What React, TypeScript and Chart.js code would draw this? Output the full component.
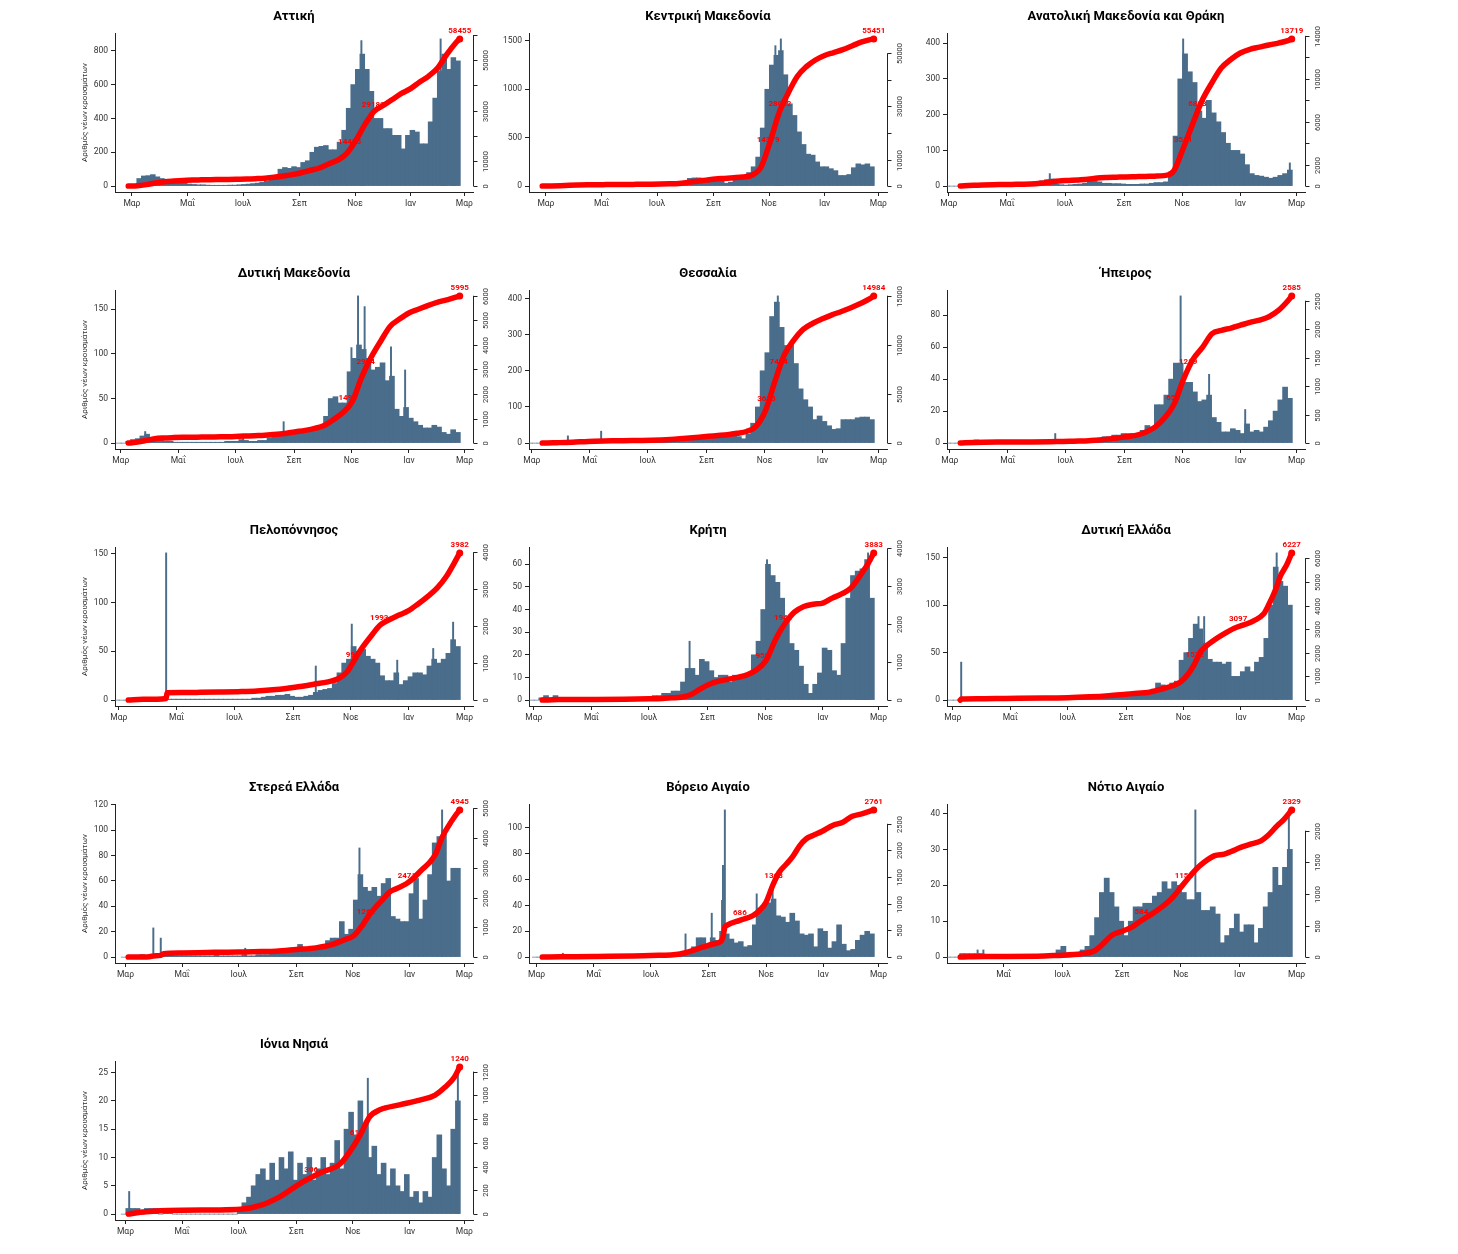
import React, { useEffect, useRef } from "react";
import { Chart, registerables } from "chart.js";

Chart.register(...registerables);

// ---------- shared axis data ----------
const MONTH_TICK_DAYS = [4, 65, 126, 188, 249, 310, 369]; // days after 26 Feb 2020
const MONTH_TICK_LABELS = ["Μαρ", "Μαΐ", "Ιουλ", "Σεπ", "Νοε", "Ιαν", "Μαρ"];
const LAST_DAY = 364;
const BIN_DAYS = 5;
const Y_TITLE = "Αριθμός νέων κρουσμάτων";

const REGION_NAMES = [
  "Αττική", "Κεντρική Μακεδονία", "Ανατολική Μακεδονία και Θράκη",
  "Δυτική Μακεδονία", "Θεσσαλία", "Ήπειρος",
  "Πελοπόννησος", "Κρήτη", "Δυτική Ελλάδα",
  "Στερεά Ελλάδα", "Βόρειο Αιγαίο", "Νότιο Αιγαίο",
  "Ιόνια Νησιά",
];
const START_DAYS = [0, 0, 16, 12, 15, 15, 14, 13, 12, 7, 10, 20, 7];
const BAR_MAX = [870, 1520, 412, 165, 407, 92, 151, 65, 155, 116, 114, 41, 26];

const LEFT_TICKS = [
  [0, 200, 400, 600, 800],
  [0, 500, 1000, 1500],
  [0, 100, 200, 300, 400],
  [0, 50, 100, 150],
  [0, 100, 200, 300, 400],
  [0, 20, 40, 60, 80],
  [0, 50, 100, 150],
  [0, 10, 20, 30, 40, 50, 60],
  [0, 50, 100, 150],
  [0, 20, 40, 60, 80, 100, 120],
  [0, 20, 40, 60, 80, 100],
  [0, 10, 20, 30, 40],
  [0, 5, 10, 15, 20, 25],
];
const RIGHT_TICKS = [
  [0, 10000, 20000, 30000, 40000, 50000, 60000],
  [0, 10000, 20000, 30000, 40000, 50000],
  [0, 2000, 4000, 6000, 8000, 10000, 12000, 14000],
  [0, 1000, 2000, 3000, 4000, 5000, 6000],
  [0, 5000, 10000, 15000],
  [0, 500, 1000, 1500, 2000, 2500],
  [0, 1000, 2000, 3000, 4000],
  [0, 1000, 2000, 3000, 4000],
  [0, 1000, 2000, 3000, 4000, 5000, 6000],
  [0, 1000, 2000, 3000, 4000, 5000],
  [0, 500, 1000, 1500, 2000, 2500],
  [0, 500, 1000, 1500, 2000],
  [0, 200, 400, 600, 800, 1000, 1200],
];
const RIGHT_TICK_LABELS = [
  ["0", "10000", "", "30000", "", "50000", ""],
  ["0", "10000", "", "30000", "", "50000"],
  ["0", "2000", "", "6000", "", "10000", "", "14000"],
  ["0", "1000", "2000", "3000", "4000", "5000", "6000"],
  ["0", "5000", "10000", "15000"],
  ["0", "500", "1000", "1500", "2000", "2500"],
  ["0", "1000", "2000", "3000", "4000"],
  ["0", "1000", "2000", "3000", "4000"],
  ["0", "1000", "2000", "3000", "4000", "5000", "6000"],
  ["0", "1000", "2000", "3000", "4000", "5000"],
  ["0", "500", "1000", "1500", "2000", "2500"],
  ["0", "500", "1000", "1500", "2000"],
  ["0", "200", "400", "600", "800", "1000", "1200"],
];

// ---------- daily new cases, 5-day bins from 26 Feb 2020 (typical daily level) ----------
const ATTICA_BINS = [2,3,45,60,62,68,55,45,35,28, 22,18,22,12,10,8,8,6,5,5, 5,5,6,6,8,10,12,15,18,22, 30,35,45,100,110,105,115,110,140,150, 200,230,235,240,215,215,260,330,460,600, 690,780,690,560,400,400,340,340,300,300, 220,300,330,320,250,250,380,520,680,780, 690,760,740];
const KM_BINS = [2,4,8,10,10,10,8,8,6,5, 4,3,3,2,2,2,2,2,2,2, 2,2,2,2,3,4,5,8,10,15, 25,30,80,85,85,55,50,60,70,60, 30,40,70,95,90,140,200,300,600,1000, 1250,1350,1400,1150,850,730,560,430,330,320, 250,200,200,180,160,110,110,120,190,230, 220,230,200];
const AMTH_BINS = [0,0,0,1,2,2,3,3,3,2, 2,2,2,1,1,1,1,2,3,12, 15,18,20,5,4,3,4,5,6,8, 15,22,12,8,8,7,7,6,5,5, 5,6,6,8,10,10,12,40,140,300, 370,320,290,210,190,240,205,180,150,120, 100,100,90,60,35,30,28,25,22,25, 30,35,45];
const DM_BINS = [0,0,2,4,5,8,10,6,5,3, 2,2,1,1,1,1,1,1,1,1, 1,1,1,2,2,2,4,3,2,2, 3,3,6,8,8,12,10,12,12,13, 14,15,16,18,30,50,52,45,45,80, 95,110,105,95,82,85,90,70,75,38, 30,40,28,24,20,17,17,20,18,12, 10,15,12];
const THESS_BINS = [0,0,0,1,2,2,3,2,3,3, 2,2,2,2,2,3,2,2,2,2, 2,2,2,3,3,3,4,4,5,6, 8,12,14,15,15,16,16,14,14,15, 18,20,26,25,18,12,25,55,100,200, 250,350,390,320,270,270,220,150,120,100, 65,75,60,48,38,40,65,65,65,70, 72,72,65];
const IPEIROS_BINS = [0,0,0,1,1,1,2,0,0,0, 0,0,0,0,0,0,0,0,0,0, 0,0,0,1,0,0,1,1,1,1, 2,2,3,4,4,5,5,6,6,6, 6,8,11,10,24,24,30,40,50,50, 38,38,32,26,27,30,16,13,7,7, 9,8,6,12,7,8,7,10,14,20, 27,35,28];
const PELOP_BINS = [0,0,0,1,1,1,1,1,1,1, 1,1,1,1,1,1,1,1,1,1, 1,1,1,1,1,1,1,1,1,2, 2,3,4,4,5,5,6,4,3,3, 4,5,8,10,11,12,17,28,38,42, 55,50,52,45,42,38,25,20,20,28, 16,20,24,28,28,26,35,42,38,42, 48,62,55];
const KRITI_BINS = [0,0,1,2,0,2,1,0,0,0, 0,0,0,0,0,0,0,0,0,0, 0,0,0,0,0,1,2,2,3,3, 4,4,8,14,14,11,18,17,13,10, 11,11,8,11,10,10,12,20,26,40, 60,55,52,45,35,25,22,15,7,3, 7,12,23,22,13,11,25,45,55,57, 58,62,45];
const DE_BINS = [0,0,1,1,1,1,1,1,1,1, 1,1,1,1,1,1,1,1,1,1, 1,1,1,1,1,1,1,2,2,2, 2,2,3,3,4,4,4,5,6,5, 5,6,6,8,18,16,14,18,20,42, 50,65,80,75,60,43,40,40,38,40, 25,25,30,35,30,40,45,65,100,140, 125,120,100];
const STEREA_BINS = [0,0,1,1,2,1,2,2,2,1, 1,1,1,1,1,1,1,1,1,1, 2,1,1,1,1,1,2,1,1,2, 2,2,3,4,4,5,5,6,10,6, 6,7,7,9,13,15,15,28,18,22, 45,65,55,52,55,48,58,62,32,30, 28,28,50,62,30,45,65,90,95,100, 60,70,70];
const VA_BINS = [0,0,1,1,0,1,1,0,0,0, 0,0,0,0,0,0,0,0,0,0, 0,0,0,0,1,0,0,1,1,1, 2,2,4,4,8,15,15,8,15,13, 20,18,14,11,12,8,9,25,38,40, 42,45,32,31,27,34,28,18,17,18, 8,22,20,7,12,25,10,5,6,13, 17,20,18];
const NA_BINS = [0,0,0,0,1,1,1,1,1,0, 0,0,0,0,0,0,0,0,0,0, 0,0,0,0,2,3,1,1,1,2, 3,6,11,18,22,18,14,10,6,10, 14,14,15,15,17,18,21,19,21,20, 18,16,16,18,13,13,14,12,4,6, 8,12,7,9,9,4,8,14,18,25, 20,25,30];
const IONIAN_BINS = [0,1,1,1,0,1,1,1,0,1, 1,0,0,0,0,0,0,0,0,0, 0,0,0,0,0,1,2,3,5,7, 8,6,9,6,10,8,11,6,9,7, 10,6,8,10,7,9,13,8,15,18, 14,20,16,10,12,7,9,5,8,5, 4,7,3,4,2,4,3,10,14,8, 5,15,20];

// ---------- single-day outliers: [day, cases] ----------
const ATTICA_SPIKES = [[256, 860], [343, 870]];
const KM_SPIKES = [[256, 1450], [262, 1520]];
const AMTH_SPIKES = [[110, 35], [250, 412], [362, 65]];
const DM_SPIKES = [[30, 13], [134, 10], [177, 24], [249, 107], [256, 165], [263, 153], [291, 108], [306, 82]];
const THESS_SPIKES = [[42, 20], [77, 33], [263, 407]];
const IPEIROS_SPIKES = [[115, 6], [247, 92], [277, 43], [315, 21]];
const PELOP_SPIKES = [[54, 151], [212, 35], [250, 78], [298, 41], [336, 53], [357, 80]];
const KRITI_SPIKES = [[169, 26], [251, 62], [358, 65]];
const DE_SPIKES = [[13, 40], [265, 88], [271, 88], [348, 155]];
const STEREA_SPIKES = [[34, 23], [42, 15], [103, 5], [133, 7], [256, 86], [345, 116]];
const VA_SPIKES = [[32, 3], [152, 3], [163, 18], [191, 34], [202, 44], [203, 71], [205, 114], [239, 49], [256, 53]];
const NA_SPIKES = [[38, 2], [44, 2], [264, 41], [361, 41]];
const IONIAN_SPIKES = [[8, 4], [265, 24], [362, 26]];

// ---------- cumulative cases: [day, total] ----------
const ATTICA_CUM = [[0,0],[10,150],[20,600],[30,1200],[40,1700],[50,2000],[60,2250],[70,2400],[80,2480],[90,2550],[100,2600],[110,2650],[120,2720],[130,2800],[140,2950],[150,3150],[160,3500],[170,4000],[180,4550],[190,5300],[200,6300],[210,7200],[220,8800],[230,10300],[240,13000],[250,18200],[260,24500],[270,29700],[280,32000],[290,34400],[300,36800],[310,38700],[320,41300],[330,43700],[340,47000],[350,52400],[360,57000],[364,58455]];
const KM_CUM = [[0,0],[10,50],[20,150],[30,300],[40,400],[50,480],[60,530],[70,560],[80,590],[90,620],[100,650],[110,680],[120,720],[130,780],[140,870],[150,1000],[160,1400],[170,1850],[180,2250],[190,2650],[200,2900],[210,3150],[220,3450],[230,4100],[240,7000],[250,16500],[260,27500],[270,35000],[280,41300],[290,45000],[300,47500],[310,49200],[320,50300],[330,51400],[340,52800],[350,54200],[360,55200],[364,55451]];
const AMTH_CUM = [[16,0],[20,30],[30,80],[40,110],[50,130],[60,145],[70,160],[80,170],[90,190],[100,260],[110,380],[120,480],[130,530],[140,580],[150,640],[160,750],[170,800],[180,830],[190,860],[200,880],[210,900],[220,930],[230,980],[240,1400],[250,3500],[260,5800],[270,8000],[280,9600],[290,11000],[300,11800],[310,12400],[320,12750],[330,12950],[340,13150],[350,13330],[360,13550],[364,13719]];
const DM_CUM = [[12,0],[20,30],[30,100],[40,180],[50,210],[60,225],[70,235],[80,240],[90,245],[100,250],[110,255],[120,262],[130,280],[140,290],[150,305],[160,330],[170,360],[180,400],[190,460],[200,520],[210,600],[220,720],[230,960],[240,1250],[250,1700],[260,2700],[270,3500],[280,4150],[290,4750],[300,5050],[310,5300],[320,5450],[330,5600],[340,5730],[350,5830],[360,5940],[364,5995]];
const THESS_CUM = [[15,0],[20,10],[30,40],[40,70],[50,110],[60,150],[70,190],[80,220],[90,235],[100,245],[110,255],[120,265],[130,285],[140,320],[150,370],[160,440],[170,520],[180,600],[190,690],[200,770],[210,860],[220,1000],[230,1180],[240,1700],[250,3300],[260,6300],[270,9000],[280,10500],[290,11600],[300,12200],[310,12650],[320,13050],[330,13400],[340,13780],[350,14200],[360,14700],[364,14984]];
const IPEIROS_CUM = [[15,0],[20,5],[30,12],[40,16],[60,18],[90,20],[110,24],[120,28],[130,32],[140,35],[150,40],[160,55],[170,70],[180,90],[190,110],[200,135],[210,190],[220,280],[230,440],[240,680],[250,1120],[260,1470],[270,1680],[280,1920],[290,1980],[300,2020],[310,2070],[320,2120],[330,2160],[340,2220],[350,2330],[360,2500],[364,2585]];
const PELOP_CUM = [[14,0],[30,20],[54,45],[55,200],[70,205],[90,210],[110,218],[130,228],[150,245],[170,285],[190,350],[210,430],[225,495],[235,570],[245,760],[250,960],[255,1180],[260,1380],[270,1720],[280,2030],[290,2180],[300,2300],[310,2420],[320,2600],[330,2800],[340,3030],[350,3350],[358,3700],[364,3982]];
const KRITI_CUM = [[13,0],[30,15],[60,18],[100,22],[126,35],[140,45],[150,60],[160,75],[170,140],[180,290],[190,420],[200,500],[210,550],[220,600],[230,670],[240,800],[250,1050],[260,1600],[270,2020],[280,2320],[290,2470],[300,2530],[310,2560],[320,2690],[330,2800],[340,2960],[350,3300],[358,3600],[364,3883]];
const DE_CUM = [[12,0],[13,45],[30,55],[60,70],[100,90],[126,100],[150,140],[170,190],[188,250],[200,290],[211,320],[225,460],[239,630],[246,770],[253,1050],[260,1470],[267,2030],[274,2310],[281,2520],[292,2800],[303,3040],[313,3180],[324,3360],[334,3640],[339,3990],[347,4690],[352,5250],[359,5750],[364,6227]];
const STEREA_CUM = [[7,0],[30,15],[34,40],[42,60],[45,110],[65,140],[100,160],[126,172],[150,185],[166,200],[188,255],[209,310],[227,425],[238,560],[250,725],[259,1060],[266,1395],[274,1700],[281,1930],[288,2175],[295,2290],[306,2455],[313,2620],[324,2960],[331,3160],[338,3460],[345,4020],[352,4410],[359,4740],[364,4945]];
const VA_CUM = [[10,0],[30,5],[65,12],[126,30],[157,60],[171,125],[182,190],[193,250],[201,300],[203,380],[205,560],[207,595],[221,690],[235,780],[242,875],[249,1030],[256,1340],[263,1590],[271,1750],[278,1900],[285,2090],[292,2220],[299,2280],[309,2360],[320,2470],[331,2530],[341,2640],[352,2690],[364,2761]];
const NA_CUM = [[20,0],[45,10],[100,14],[119,26],[146,53],[160,105],[170,237],[177,342],[188,410],[198,473],[208,580],[219,684],[229,790],[239,920],[249,1105],[256,1236],[265,1394],[273,1500],[284,1605],[294,1630],[301,1670],[311,1736],[322,1790],[332,1840],[339,1920],[349,2080],[356,2180],[364,2329]];
const IONIAN_CUM = [[7,0],[20,15],[50,30],[100,35],[128,40],[150,75],[171,150],[192,257],[214,348],[235,422],[246,530],[257,670],[267,820],[278,878],[299,920],[321,960],[337,1000],[348,1068],[358,1150],[364,1240]];

// ---------- red labels on the cumulative curve: [day, total] ----------
const ATTICA_LABELS = [[243, 14415], [269, 29180], [364, 58455]];
const KM_LABELS = [[248, 14379], [261, 28052], [364, 55451]];
const AMTH_LABELS = [[250, 3531], [265, 6883], [364, 13719]];
const DM_LABELS = [[245, 1496], [264, 2994], [364, 5995]];
const THESS_LABELS = [[251, 3695], [264, 7484], [364, 14984]];
const IPEIROS_LABELS = [[239, 655], [255, 1289], [364, 2585]];
const PELOP_LABELS = [[251, 993], [279, 1993], [364, 3982]];
const KRITI_LABELS = [[246, 958], [268, 1946], [364, 3883]];
const DE_LABELS = [[261, 1572], [307, 3097], [364, 6227]];
const STEREA_LABELS = [[263, 1262], [307, 2471], [364, 4945]];
const VA_LABELS = [[221, 686], [257, 1363], [364, 2761]];
const NA_LABELS = [[208, 584], [252, 1158], [364, 2329]];
const IONIAN_LABELS = [[204, 306], [253, 617], [364, 1240]];

const BINS = [ATTICA_BINS, KM_BINS, AMTH_BINS, DM_BINS, THESS_BINS, IPEIROS_BINS, PELOP_BINS, KRITI_BINS, DE_BINS, STEREA_BINS, VA_BINS, NA_BINS, IONIAN_BINS];
const SPIKES = [ATTICA_SPIKES, KM_SPIKES, AMTH_SPIKES, DM_SPIKES, THESS_SPIKES, IPEIROS_SPIKES, PELOP_SPIKES, KRITI_SPIKES, DE_SPIKES, STEREA_SPIKES, VA_SPIKES, NA_SPIKES, IONIAN_SPIKES];
const CUM = [ATTICA_CUM, KM_CUM, AMTH_CUM, DM_CUM, THESS_CUM, IPEIROS_CUM, PELOP_CUM, KRITI_CUM, DE_CUM, STEREA_CUM, VA_CUM, NA_CUM, IONIAN_CUM];
const LABELS = [ATTICA_LABELS, KM_LABELS, AMTH_LABELS, DM_LABELS, THESS_LABELS, IPEIROS_LABELS, PELOP_LABELS, KRITI_LABELS, DE_LABELS, STEREA_LABELS, VA_LABELS, NA_LABELS, IONIAN_LABELS];

// ---------- layout / style ----------
const COL_LEFT = [115, 529, 947];
const PLOT_W = 358;
const PLOT_H = 159;
const ROW_TOP0 = 33;
const ROW_STEP = 257;
const PAD_L = 62;
const PAD_R = 40;
const PAD_T = 32;
const PAD_B = 26;
const FONT = "Roboto, 'Noto Sans', sans-serif";
const BAR_COLOR = "#4a6d8b";
const RED = "#ff0000";
const TEXT = "#333333";
const AXIS = "#222222";

function Panel({ idx }: { idx: number }) {
  const ref = useRef<HTMLCanvasElement | null>(null);
  const col = idx % 3;
  const row = Math.floor(idx / 3);
  const plotLeft = COL_LEFT[col];
  const plotTop = ROW_TOP0 + ROW_STEP * row;
  const w = PAD_L + PLOT_W + PAD_R;
  const h = PAD_T + PLOT_H + PAD_B;

  useEffect(() => {
    const canvas = ref.current;
    if (!canvas) return;
    const start = START_DAYS[idx];
    const span = LAST_DAY - start;
    const xmin = start - 0.04 * span;
    const xmax = LAST_DAY + 0.04 * span;
    const pxPerDay = PLOT_W / (xmax - xmin);
    const barMax = BAR_MAX[idx];
    const cum = CUM[idx];
    const cumMax = cum[cum.length - 1][1];
    const leftTicks = LEFT_TICKS[idx];
    const rightTicks = RIGHT_TICKS[idx];
    const rightLabels = RIGHT_TICK_LABELS[idx];
    const labels = LABELS[idx];
    const name = REGION_NAMES[idx];

    const decor = {
      id: "decor",
      beforeDatasetDraw(chart: any, args: any) {
        if (args.index !== 0) return;
        const ctx = chart.ctx;
        const xs = chart.scales.x;
        const ys = chart.scales.y1;
        ctx.save();
        ctx.font = `bold 8px ${FONT}`;
        ctx.fillStyle = RED;
        ctx.textAlign = "center";
        ctx.textBaseline = "bottom";
        for (const [d, v] of labels) {
          ctx.fillText(String(v), xs.getPixelForValue(d), ys.getPixelForValue(v) - 4);
        }
        ctx.restore();
      },
      afterDraw(chart: any) {
        const ctx = chart.ctx;
        const area = chart.chartArea;
        const ys = chart.scales.y1;
        ctx.save();
        // title
        ctx.font = `bold 13px ${FONT}`;
        ctx.fillStyle = "#000";
        ctx.textAlign = "center";
        ctx.textBaseline = "middle";
        ctx.fillText(name, (area.left + area.right) / 2, area.top - 16);
        // y title
        if (col === 0) {
          ctx.save();
          ctx.translate(area.left - 30, (area.top + area.bottom) / 2);
          ctx.rotate(-Math.PI / 2);
          ctx.font = `8px ${FONT}`;
          ctx.fillStyle = TEXT;
          ctx.fillText(Y_TITLE, 0, 0);
          ctx.restore();
        }
        // right axis
        const xr = Math.round(area.right) + 0.5;
        const y0 = ys.getPixelForValue(rightTicks[0]);
        const yT = ys.getPixelForValue(rightTicks[rightTicks.length - 1]);
        ctx.strokeStyle = AXIS;
        ctx.lineWidth = 1;
        ctx.beginPath();
        ctx.moveTo(xr, y0);
        ctx.lineTo(xr, yT);
        ctx.stroke();
        ctx.font = `7.5px ${FONT}`;
        ctx.fillStyle = TEXT;
        rightTicks.forEach((v: number, i: number) => {
          const y = Math.round(ys.getPixelForValue(v)) + 0.5;
          ctx.beginPath();
          ctx.moveTo(xr, y);
          ctx.lineTo(xr + 4, y);
          ctx.stroke();
          if (rightLabels[i]) {
            ctx.save();
            ctx.translate(xr + 13, y);
            ctx.rotate(-Math.PI / 2);
            ctx.textAlign = "center";
            ctx.textBaseline = "middle";
            ctx.fillText(rightLabels[i], 0, 0);
            ctx.restore();
          }
        });
        ctx.restore();
      },
    };

    const chart = new Chart(canvas, {
      type: "bar",
      data: {
        datasets: [
          {
            type: "line",
            data: cum.map(([d, v]) => ({ x: d, y: v })),
            xAxisID: "x",
            yAxisID: "y1",
            borderColor: RED,
            backgroundColor: RED,
            borderWidth: 5.5,
            borderCapStyle: "round",
            borderJoinStyle: "round",
            cubicInterpolationMode: "monotone",
            pointRadius: (c: any) => (c.dataIndex === cum.length - 1 ? 3.5 : 0),
            pointBorderWidth: 0,
            fill: false,
            order: 0,
          } as any,
          {
            type: "bar",
            data: BINS[idx].map((v, i) => ({ x: i * BIN_DAYS + (BIN_DAYS - 1) / 2, y: v })),
            xAxisID: "x",
            yAxisID: "y",
            backgroundColor: BAR_COLOR,
            borderWidth: 0,
            barThickness: BIN_DAYS * pxPerDay + 0.3,
            grouped: false,
            order: 2,
          } as any,
          {
            type: "bar",
            data: SPIKES[idx].map(([d, v]) => ({ x: d, y: v })),
            xAxisID: "x",
            yAxisID: "y",
            backgroundColor: BAR_COLOR,
            borderWidth: 0,
            barThickness: Math.max(1.3, pxPerDay * 1.2),
            grouped: false,
            order: 1,
          } as any,
        ],
      },
      options: {
        responsive: false,
        animation: false,
        events: [],
        layout: { padding: { left: 0, right: PAD_R, top: PAD_T, bottom: 0 } },
        plugins: { legend: { display: false }, tooltip: { enabled: false }, title: { display: false } },
        scales: {
          x: {
            type: "linear",
            min: xmin,
            max: xmax,
            offset: false,
            afterBuildTicks: (s: any) => {
              s.ticks = MONTH_TICK_DAYS.filter((d) => d >= xmin && d <= xmax).map((d) => ({ value: d }));
            },
            afterFit: (s: any) => {
              s.height = PAD_B;
            },
            ticks: {
              autoSkip: false,
              maxRotation: 0,
              minRotation: 0,
              padding: 3,
              color: TEXT,
              font: { family: FONT, size: 8.5 },
              callback: (v: any) => {
                const k = MONTH_TICK_DAYS.indexOf(Number(v));
                return k >= 0 ? MONTH_TICK_LABELS[k] : "";
              },
            },
            grid: { drawOnChartArea: false, drawTicks: true, tickLength: 4, color: AXIS, offset: false },
            border: { display: true, color: AXIS, width: 1 },
          },
          y: {
            type: "linear",
            position: "left",
            min: -0.04 * barMax,
            max: 1.04 * barMax,
            afterBuildTicks: (s: any) => {
              s.ticks = leftTicks.map((v) => ({ value: v }));
            },
            afterFit: (s: any) => {
              s.width = PAD_L;
            },
            ticks: {
              autoSkip: false,
              padding: 3,
              color: TEXT,
              font: { family: FONT, size: 8.5 },
              callback: (v: any) => String(v),
            },
            grid: { drawOnChartArea: false, drawTicks: true, tickLength: 4, color: AXIS },
            border: { display: true, color: AXIS, width: 1 },
          },
          y1: {
            type: "linear",
            position: "right",
            display: false,
            min: -0.04 * cumMax,
            max: 1.04 * cumMax,
          },
        },
      } as any,
      plugins: [decor as any],
    });
    return () => chart.destroy();
  }, [idx]);

  return (
    <canvas
      ref={ref}
      width={w}
      height={h}
      style={{ position: "absolute", left: plotLeft - PAD_L, top: plotTop - PAD_T, width: w, height: h }}
    />
  );
}

export default function App() {
  return (
    <div style={{ position: "absolute", left: 0, top: 0, width: 1458, height: 1254, background: "#fff" }}>
      {REGION_NAMES.map((_, i) => (
        <Panel key={i} idx={i} />
      ))}
    </div>
  );
}
